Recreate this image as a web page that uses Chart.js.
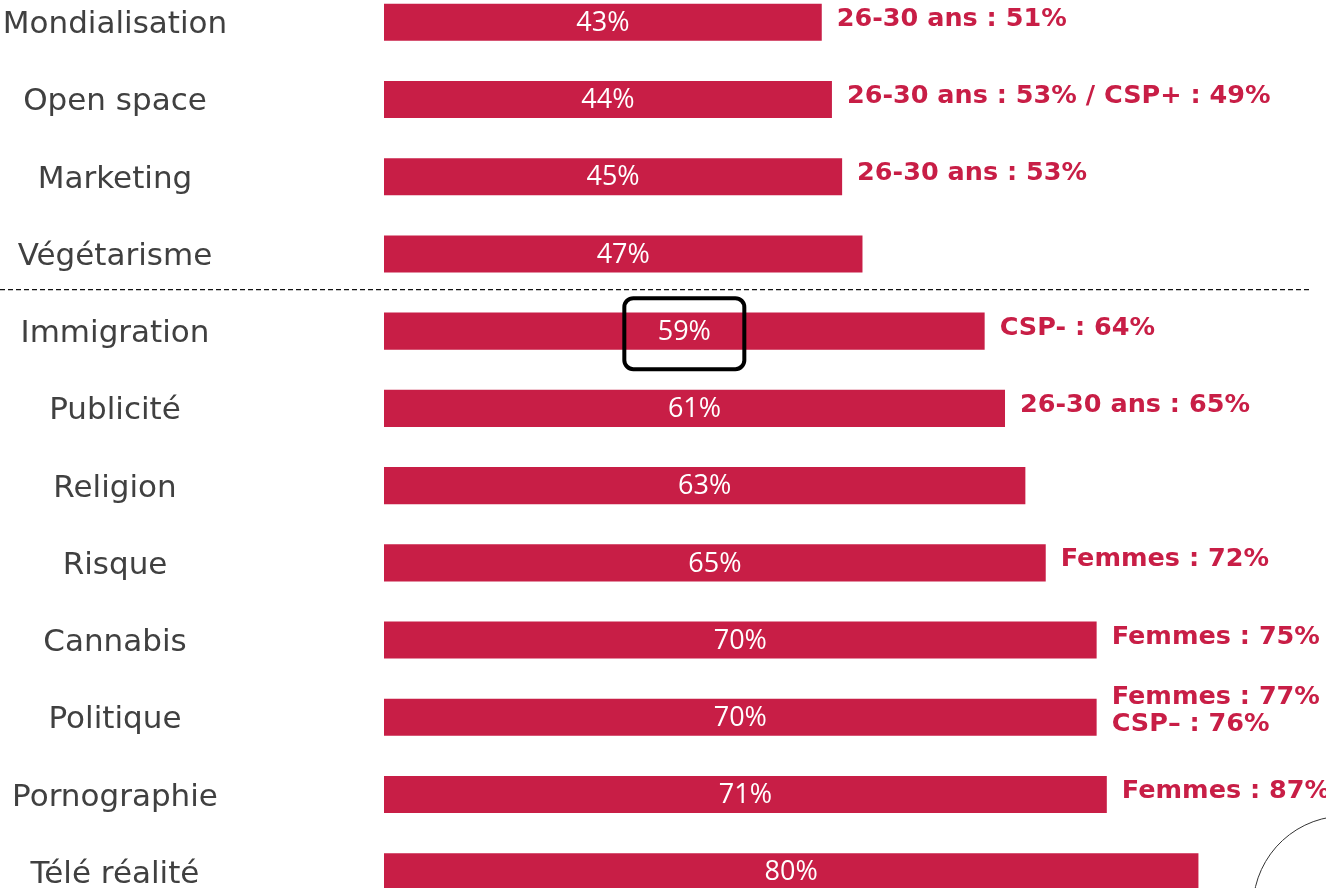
<!DOCTYPE html>
<html>
<head>
<meta charset="utf-8">
<script src="https://cdn.jsdelivr.net/npm/chart.js@4/dist/chart.umd.min.js"></script>
<style>
    html, body { margin: 0; padding: 0; background: #fff; overflow: hidden; }
    #wrap { position: absolute; left: 0; top: -35px; width: 1326px; height: 964px; }
</style>
</head>
<body>
<div id="wrap"><canvas id="grafico" width="1326" height="964"></canvas></div>
<script>
const categorias = ['Mondialisation', 'Open space', 'Marketing', 'Végétarisme', 'Immigration', 'Publicité',
    'Religion', 'Risque', 'Cannabis', 'Politique', 'Pornographie', 'Télé réalité'];
const valores = [43, 44, 45, 47, 59, 61, 63, 65, 70, 70, 71, 80];
const detalhes = [
    ['26-30 ans : 51%'],
    ['26-30 ans : 53% / CSP+ : 49%'],
    ['26-30 ans : 53%'],
    [],
    ['CSP- : 64%'],
    ['26-30 ans : 65%'],
    [],
    ['Femmes : 72%'],
    ['Femmes : 75%'],
    ['Femmes : 77%', 'CSP\u2013 : 76%'],
    ['Femmes : 87%'],
    []
];
const indiceSeparador = 3;   // linha tracejada depois de Végétarisme
const indiceDestaque = 4;    // caixa em volta de Immigration

const corBarra = '#C81E46';
const fonteRotulo = '31px "DejaVu Sans", Verdana, sans-serif';

// mede o rótulo mais largo para centralizar os rótulos em x=115
const medidor = document.createElement('canvas').getContext('2d');
medidor.font = fonteRotulo;
let maisLargo = 0;
categorias.forEach(c => { maisLargo = Math.max(maisLargo, medidor.measureText(c).width); });
const recuoRotulo = 384 - 115 - maisLargo / 2;

const pluginTextos = {
    id: 'textos',
    afterDatasetsDraw(chart) {
        const ctx = chart.ctx;
        const barras = chart.getDatasetMeta(0).data;
        const escalaY = chart.scales.y;
        ctx.save();

        // linha tracejada
        const ySep = (escalaY.getPixelForValue(indiceSeparador) + escalaY.getPixelForValue(indiceSeparador + 1)) / 2 - 3;
        ctx.strokeStyle = '#111';
        ctx.lineWidth = 1.3;
        ctx.setLineDash([5, 3]);
        ctx.beginPath();
        ctx.moveTo(0, ySep);
        ctx.lineTo(1312, ySep);
        ctx.stroke();
        ctx.setLineDash([]);

        barras.forEach((barra, i) => {
            // valor dentro da barra
            ctx.fillStyle = '#fff';
            ctx.font = '27px "Open Sans", sans-serif';
            ctx.textAlign = 'center';
            ctx.textBaseline = 'middle';
            ctx.fillText(valores[i] + '%', (barra.base + barra.x) / 2, barra.y + 1);

            // detalhes à direita
            const linhas = detalhes[i];
            ctx.fillStyle = corBarra;
            ctx.font = 'bold 25.5px "DejaVu Sans", Verdana, sans-serif';
            ctx.textAlign = 'left';
            const y0 = barra.y - 3 - (linhas.length - 1) * 13.5 - (linhas.length > 1 ? 3 : 0);
            linhas.forEach((t, k) => {
                ctx.fillText(t, barra.x + 15, y0 + k * 27);
            });
        });

        // caixa de destaque
        const b = barras[indiceDestaque];
        const cx = (b.base + b.x) / 2;
        ctx.strokeStyle = '#000';
        ctx.lineWidth = 4;
        ctx.beginPath();
        ctx.roundRect(cx - 60, b.y - 33, 120, 71, 9);
        ctx.stroke();

        // pedaço do logotipo no canto
        ctx.strokeStyle = '#333';
        ctx.lineWidth = 1;
        ctx.beginPath();
        ctx.arc(1345, 943, 92, Math.PI * 0.95, Math.PI * 1.6);
        ctx.stroke();
        ctx.restore();
    }
};

new Chart(document.getElementById('grafico').getContext('2d'), {
    type: 'bar',
    data: {
        labels: categorias,
        datasets: [{
            data: valores,
            backgroundColor: corBarra,
            borderWidth: 0,
            barPercentage: 0.48,
            categoryPercentage: 1
        }]
    },
    options: {
        indexAxis: 'y',
        responsive: false,
        animation: false,
        layout: { padding: 0 },
        plugins: {
            legend: { display: false },
            tooltip: { enabled: false }
        },
        scales: {
            x: {
                display: false,
                min: 0,
                max: 92.53
            },
            y: {
                grid: { display: false, drawTicks: true, tickLength: recuoRotulo },
                border: { display: false },
                ticks: {
                    color: '#404040',
                    font: { family: '"DejaVu Sans", Verdana, sans-serif', size: 31 },
                    crossAlign: 'center',
                    labelOffset: 3,
                    padding: 0
                },
                afterFit(scale) { scale.width = 384; }
            }
        }
    },
    plugins: [pluginTextos]
});
</script>
</body>
</html>
